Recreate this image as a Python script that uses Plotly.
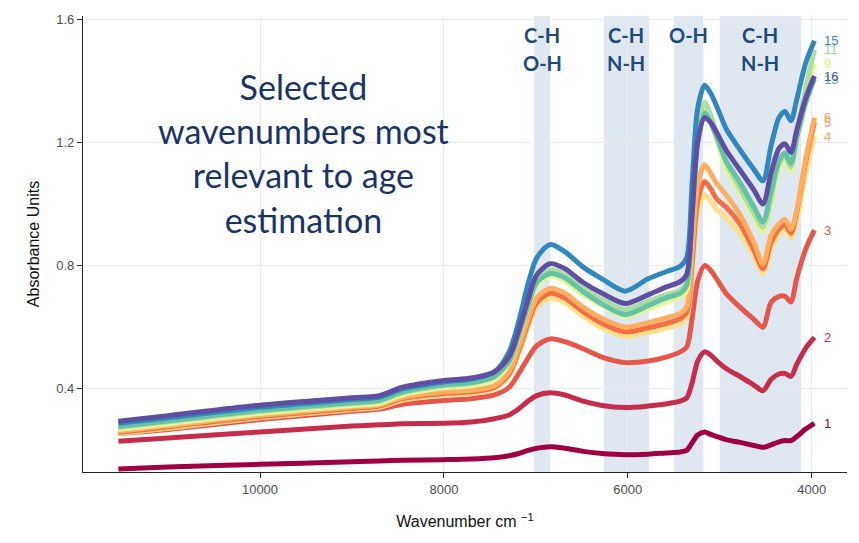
import plotly.graph_objects as go

# Wavenumbers (cm^-1) at which the spectra are sampled
wavenumber = [11540, 11000, 10000, 9000, 8700, 8450, 8000, 7700, 7450, 7290,
              7185, 7085, 6990, 6845, 6685, 6485, 6280, 6030, 5780, 5585,
              5430, 5360, 5300, 5240, 5165, 5100, 5030, 4932, 4780, 4628,
              4530, 4443, 4356, 4290, 4226, 4162, 4063, 3970]

# Mean absorbance spectra, one list per sample label
spec_1 = [0.140, 0.146, 0.155, 0.163, 0.166, 0.168, 0.170, 0.172, 0.176, 0.183,
          0.190, 0.200, 0.207, 0.212, 0.207, 0.197, 0.190, 0.186, 0.188, 0.192,
          0.195, 0.200, 0.225, 0.250, 0.260, 0.252, 0.245, 0.235, 0.226, 0.216,
          0.210, 0.218, 0.228, 0.232, 0.232, 0.245, 0.270, 0.288]
spec_2 = [0.230, 0.240, 0.260, 0.279, 0.283, 0.287, 0.288, 0.292, 0.303, 0.315,
          0.335, 0.360, 0.378, 0.387, 0.380, 0.360, 0.346, 0.339, 0.344, 0.351,
          0.360, 0.370, 0.420, 0.490, 0.520, 0.510, 0.490, 0.466, 0.440, 0.412,
          0.394, 0.430, 0.448, 0.450, 0.440, 0.480, 0.533, 0.567]
spec_3 = [0.255, 0.268, 0.300, 0.327, 0.334, 0.350, 0.362, 0.368, 0.380, 0.405,
          0.450, 0.500, 0.540, 0.562, 0.553, 0.530, 0.503, 0.485, 0.490, 0.503,
          0.520, 0.535, 0.630, 0.750, 0.800, 0.785, 0.755, 0.710, 0.665, 0.625,
          0.600, 0.680, 0.700, 0.700, 0.682, 0.760, 0.855, 0.915]
spec_4 = [0.255, 0.272, 0.306, 0.332, 0.340, 0.363, 0.380, 0.385, 0.400, 0.442,
          0.515, 0.600, 0.665, 0.694, 0.680, 0.635, 0.598, 0.570, 0.583, 0.597,
          0.612, 0.630, 0.785, 0.975, 1.030, 1.010, 0.980, 0.955, 0.905, 0.830,
          0.775, 0.855, 0.900, 0.920, 0.890, 0.950, 1.100, 1.220]
spec_5 = [0.258, 0.276, 0.310, 0.336, 0.344, 0.368, 0.385, 0.390, 0.405, 0.448,
          0.525, 0.612, 0.680, 0.710, 0.695, 0.650, 0.612, 0.585, 0.598, 0.612,
          0.628, 0.648, 0.810, 1.010, 1.073, 1.050, 1.015, 0.990, 0.935, 0.850,
          0.790, 0.875, 0.918, 0.935, 0.905, 0.975, 1.140, 1.265]
spec_6 = [0.262, 0.280, 0.314, 0.340, 0.348, 0.372, 0.390, 0.395, 0.410, 0.455,
          0.535, 0.625, 0.695, 0.726, 0.710, 0.665, 0.628, 0.600, 0.615, 0.630,
          0.645, 0.665, 0.850, 1.060, 1.127, 1.100, 1.065, 1.030, 0.965, 0.875,
          0.805, 0.897, 0.935, 0.950, 0.918, 0.980, 1.150, 1.280]
spec_9 = [0.268, 0.286, 0.320, 0.345, 0.353, 0.380, 0.403, 0.410, 0.430, 0.485,
          0.570, 0.665, 0.735, 0.765, 0.750, 0.705, 0.670, 0.635, 0.660, 0.682,
          0.697, 0.720, 0.950, 1.210, 1.310, 1.270, 1.205, 1.115, 1.035, 0.955,
          0.910, 1.000, 1.115, 1.143, 1.105, 1.200, 1.345, 1.455]
spec_11 = [0.275, 0.293, 0.327, 0.352, 0.360, 0.387, 0.410, 0.418, 0.440, 0.495,
           0.585, 0.680, 0.755, 0.786, 0.772, 0.728, 0.690, 0.657, 0.685, 0.705,
           0.720, 0.745, 0.980, 1.240, 1.330, 1.290, 1.225, 1.135, 1.050, 0.970,
           0.925, 1.020, 1.130, 1.155, 1.120, 1.220, 1.380, 1.500]
spec_13 = [0.278, 0.296, 0.330, 0.355, 0.363, 0.390, 0.413, 0.420, 0.440, 0.490,
           0.575, 0.670, 0.745, 0.774, 0.760, 0.715, 0.675, 0.641, 0.670, 0.695,
           0.710, 0.735, 0.950, 1.200, 1.295, 1.265, 1.215, 1.140, 1.070, 0.990,
           0.942, 1.040, 1.140, 1.165, 1.132, 1.215, 1.330, 1.405]
spec_15 = [0.288, 0.306, 0.340, 0.365, 0.373, 0.400, 0.422, 0.432, 0.455, 0.520,
           0.620, 0.740, 0.825, 0.868, 0.845, 0.795, 0.757, 0.717, 0.757, 0.780,
           0.798, 0.825, 1.070, 1.310, 1.385, 1.360, 1.315, 1.245, 1.176, 1.112,
           1.075, 1.187, 1.280, 1.300, 1.270, 1.340, 1.460, 1.530]
spec_16 = [0.295, 0.313, 0.347, 0.371, 0.378, 0.405, 0.427, 0.435, 0.455, 0.505,
           0.590, 0.690, 0.770, 0.806, 0.790, 0.745, 0.710, 0.677, 0.705, 0.730,
           0.748, 0.770, 0.970, 1.200, 1.280, 1.265, 1.230, 1.175, 1.110, 1.045,
           1.000, 1.100, 1.180, 1.195, 1.167, 1.240, 1.345, 1.415]

sample_labels = ["1", "2", "3", "4", "5", "6", "9", "11", "13", "15", "16"]
spectra = [spec_1, spec_2, spec_3, spec_4, spec_5, spec_6,
           spec_9, spec_11, spec_13, spec_15, spec_16]

# Spectral-type palette, one colour per sample
line_colors = ["#9e0142", "#c62d4c", "#e4574a", "#fee08b", "#f46d43", "#fdae61",
               "#e6f598", "#abdda4", "#66c2a5", "#3288bd", "#5e4fa2"]
label_colors = ["#9e0142", "#c62d4c", "#e4574a", "#f5a76a", "#f39458", "#f8a35e",
                "#dfee8c", "#9fd69a", "#5bb8a0", "#3288bd", "#5e4fa2"]

# Selected wavenumber regions (start, end) with their bond assignments
band_start = [7020, 6260, 5500, 5000]
band_end = [6846, 5770, 5180, 4115]
band_text = [["C-H", "O-H"], ["C-H", "N-H"], ["O-H"], ["C-H", "N-H"]]

fig = go.Figure()

for lab, ys, col in zip(sample_labels, spectra, line_colors):
    fig.add_trace(go.Scatter(
        x=wavenumber, y=ys, mode="lines", name=lab,
        line=dict(color=col, width=5, shape="spline", smoothing=0.8),
        showlegend=False, hoverinfo="skip"))

for lab, ys, col in zip(sample_labels, spectra, label_colors):
    fig.add_annotation(x=wavenumber[-1], y=ys[-1], text=lab, showarrow=False,
                       xanchor="left", yanchor="middle", xshift=8,
                       font=dict(family="Liberation Sans, Arial", size=13, color=col))

for x0, x1, lines in zip(band_start, band_end, band_text):
    fig.add_shape(type="rect", xref="x", yref="paper", x0=x0, x1=x1, y0=0, y1=1,
                  fillcolor="#dfe7f1", line=dict(width=0), layer="below")
    xc = (x0 + x1) / 2
    for i, t in enumerate(lines):
        fig.add_annotation(x=xc, y=0.9587 - 0.061 * i, xref="x", yref="paper",
                           text="<b>" + t + "</b>", showarrow=False,
                           xanchor="center", yanchor="middle",
                           font=dict(family="Lato, Liberation Sans", size=20, color="#1f4a7c"))

fig.add_annotation(x=0.289, y=0.699, xref="paper", yref="paper",
                   text="Selected<br>wavenumbers most<br>relevant to age<br>estimation",
                   showarrow=False, xanchor="center", yanchor="middle", align="center",
                   font=dict(family="Lato, Open Sans", size=34, color="#1a3468"))

axis_font = dict(family="Liberation Sans, Arial", size=13, color="#4d4d4d")
fig.update_xaxes(range=[11925, 3616], tickvals=[10000, 8000, 6000, 4000],
                 ticktext=["10000", "8000", "6000", "4000"],
                 showgrid=True, gridcolor="#ebebeb", gridwidth=1, zeroline=False,
                 showline=True, linecolor="#222", linewidth=1.2,
                 ticks="outside", ticklen=5, tickcolor="#333", tickfont=axis_font,
                 title=dict(text="Wavenumber cm <sup>−1</sup>", standoff=20,
                            font=dict(family="Liberation Sans, Arial", size=16, color="#111")))
fig.update_yaxes(range=[0.13, 1.61], tickvals=[0.4, 0.8, 1.2, 1.6],
                 ticktext=["0.4", "0.8", "1.2", "1.6"],
                 showgrid=True, gridcolor="#ebebeb", gridwidth=1, zeroline=False,
                 showline=True, linecolor="#222", linewidth=1.2,
                 ticks="outside", ticklen=5, tickcolor="#333", tickfont=axis_font,
                 title=dict(text="Absorbance Units", standoff=12,
                            font=dict(family="Liberation Sans, Arial", size=16, color="#111")))

fig.update_layout(width=859, height=543, margin=dict(l=83, r=12, t=12, b=71),
                  plot_bgcolor="white", paper_bgcolor="white")

fig.write_html("out.html")
